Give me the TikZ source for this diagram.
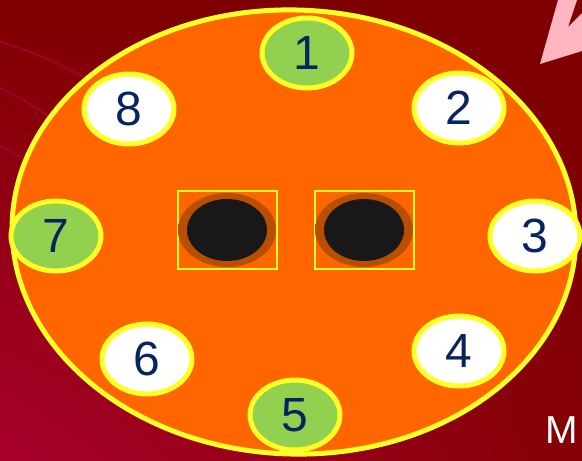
\documentclass[tikz,border=0pt]{standalone}
\usepackage{fontspec}
\setmainfont{Liberation Sans}
\usetikzlibrary{shapes.geometric,shadings}
\definecolor{holebrown}{RGB}{186,78,0}
\definecolor{plateorange}{RGB}{255,102,0}
\pgfdeclareradialshading{holeglow}{\pgfpointorigin}{color(0bp)=(holebrown); color(39bp)=(holebrown); color(50bp)=(plateorange); color(70bp)=(plateorange)}
\begin{document}
\begin{tikzpicture}[x=1pt,y=-1pt,line width=0.4pt]
\definecolor{bgred}{RGB}{126,0,0}
\definecolor{bgrose}{RGB}{168,0,42}
\definecolor{bgstreak}{RGB}{158,0,40}
\definecolor{rimyellow}{RGB}{255,255,40}
\definecolor{pingreen}{RGB}{146,208,80}
\definecolor{pinnavy}{RGB}{8,36,96}
\definecolor{arrowpink}{RGB}{255,182,193}
\definecolor{holeblack}{RGB}{24,24,24}
\providecommand{\fpin}{\fontsize{48}{48}\selectfont}
\tikzset{
  pin/.style={ellipse,draw=rimyellow,line width=5pt,fill=white,
    minimum width=90pt,minimum height=70pt,inner sep=0pt,
    text=pinnavy,font=\fpin},
  pingr/.style={pin,fill=pingreen},
  holebox/.style={rectangle,draw=rimyellow,line width=2pt,
    minimum width=99pt,minimum height=78pt,inner sep=0pt}
}
\useasboundingbox (0,0) rectangle (582,461);
\shade[upper left=bgred,upper right=bgred,lower left=bgrose,lower right=bgred!85!bgrose] (0,0) rectangle (582,461);
\draw[bgstreak,line width=2pt] (0,42) .. controls (35,52) and (65,66) .. (100,86);
\draw[bgstreak,line width=2pt] (0,88) .. controls (20,97) and (38,108) .. (55,122);
\draw[bgstreak,line width=2pt] (0,146) .. controls (10,150) and (20,156) .. (30,164);
\fill[arrowpink] (558,0) -- (577,0) -- (568,27) -- (582,13) -- (582,51) -- (540,64) -- cycle;
\draw[rimyellow,line width=5pt,fill=plateorange,rotate around={-2:(294,232)}] (294,232) ellipse [x radius=282pt,y radius=222pt];
\node[holebox] (holeL) at (227,230) {};
\node[holebox] (holeR) at (364,230) {};
\shade[shading=holeglow] (holeL.center) ellipse [x radius=49pt,y radius=37pt];
\shade[shading=holeglow] (holeR.center) ellipse [x radius=49pt,y radius=37pt];
\fill[holeblack] (holeL.center) ellipse [x radius=40pt,y radius=31pt];
\fill[holeblack] (holeR.center) ellipse [x radius=40pt,y radius=31pt];
\node[pingr] (pin1) at (307,53) {1};
\node[pin] (pin2) at (459,108) {2};
\node[pin] (pin3) at (535,236) {3};
\node[pin] (pin4) at (459,351) {4};
\node[pingr] (pin5) at (295,415) {5};
\node[pin] (pin6) at (147,359) {6};
\node[pingr] (pin7) at (56,236) {7};
\node[pin] (pin8) at (129,109) {8};
\node[anchor=base west,inner sep=0pt,text=white,font=\fontsize{39}{39}\selectfont] (mtext) at (545,443) {M};
\end{tikzpicture}
\end{document}
